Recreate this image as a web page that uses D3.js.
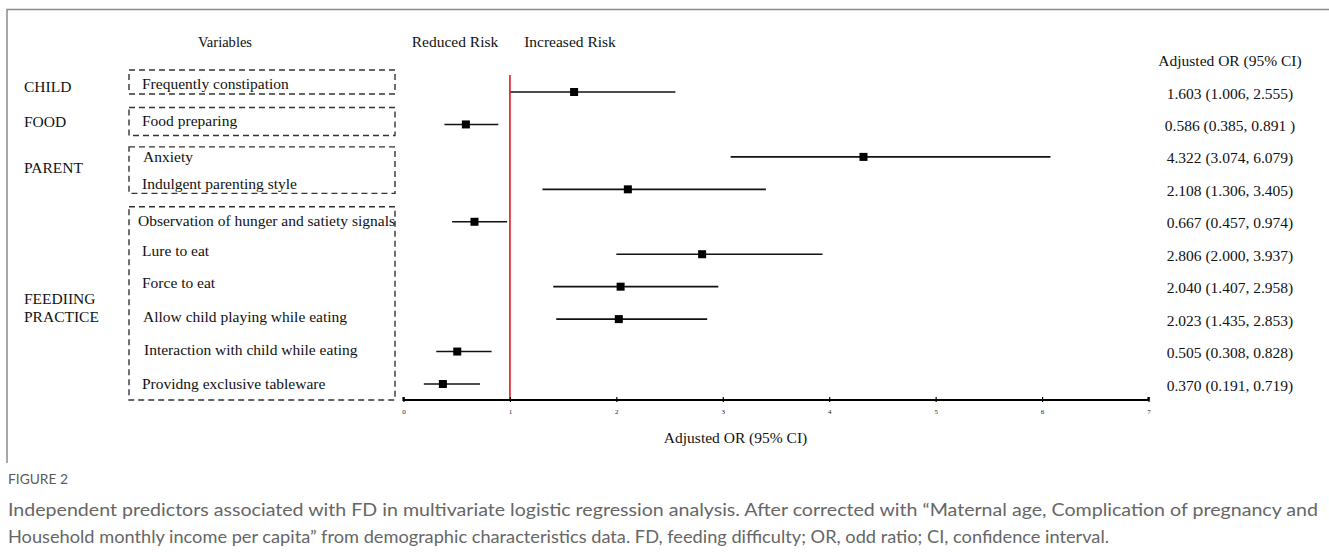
<!DOCTYPE html>
<html><head><meta charset="utf-8">
<script src="https://cdn.jsdelivr.net/npm/d3@7"></script>
<style>
html,body{margin:0;padding:0;background:#fff;}
svg{display:block;}
</style></head>
<body>
<svg id="chart" width="1329" height="552"></svg>
<script>
// ---- data ----
const groups = ["CHILD", "FOOD", "PARENT", "FEEDIING\nPRACTICE"];
const variables = [
  "Frequently constipation",
  "Food preparing",
  "Anxiety",
  "Indulgent parenting style",
  "Observation of hunger and satiety signals",
  "Lure to eat",
  "Force to eat",
  "Allow child playing while eating",
  "Interaction with child while eating",
  "Providng exclusive tableware"
];
const variableGroup = [0, 1, 2, 2, 3, 3, 3, 3, 3, 3];
const orValues  = [1.603, 0.586, 4.322, 2.108, 0.667, 2.806, 2.040, 2.023, 0.505, 0.370];
const ciLower   = [1.006, 0.385, 3.074, 1.306, 0.457, 2.000, 1.407, 1.435, 0.308, 0.191];
const ciUpper   = [2.555, 0.891, 6.079, 3.405, 0.974, 3.937, 2.958, 2.853, 0.828, 0.719];
const orLabels  = [
  "1.603 (1.006, 2.555)", "0.586 (0.385, 0.891 )", "4.322 (3.074, 6.079)",
  "2.108 (1.306, 3.405)", "0.667 (0.457, 0.974)", "2.806 (2.000, 3.937)",
  "2.040 (1.407, 2.958)", "2.023 (1.435, 2.853)", "0.505 (0.308, 0.828)",
  "0.370 (0.191, 0.719)"
];
const xTicks = [0, 1, 2, 3, 4, 5, 6, 7];
const refValue = 1;
const captionTitle = "FIGURE 2";
const captionLines = [
  "Independent predictors associated with FD in multivariate logistic regression analysis. After corrected with \u201cMaternal age, Complication of pregnancy and",
  "Household monthly income per capita\u201d from demographic characteristics data. FD, feeding difficulty; OR, odd ratio; CI, confidence interval."
];

// ---- layout ----
const serif = "'Liberation Serif', 'Times New Roman', serif";
const fs = 15.5;
const svg = d3.select("#chart");
const x = d3.scaleLinear().domain([0, 7]).range([403.5, 1148.5]);
const y = d3.scaleLinear().domain([0, variables.length - 1]).range([92, 384]);
const axisY = 400;
const rightX = 1230;

// frame
svg.append("path")
  .attr("d", "M7,463 V9.5 H1329")
  .attr("fill", "none").attr("stroke", "#8a8a8a").attr("stroke-width", 1.5);

// headers
const hdr = svg.append("g").attr("font-family", serif).attr("font-size", fs).attr("fill", "#111");
hdr.append("text").attr("x", 225).attr("y", 41).attr("text-anchor", "middle").attr("dominant-baseline", "central")
  .attr("textLength", 54).attr("lengthAdjust", "spacingAndGlyphs").text("Variables");
hdr.append("text").attr("x", 455).attr("y", 41).attr("text-anchor", "middle").attr("dominant-baseline", "central").text("Reduced Risk");
hdr.append("text").attr("x", 570).attr("y", 41).attr("text-anchor", "middle").attr("dominant-baseline", "central").text("Increased Risk");
hdr.append("text").attr("x", rightX).attr("y", 60).attr("text-anchor", "middle").attr("dominant-baseline", "central").text("Adjusted OR (95% CI)");

// dashed group boxes
const padTop = [22, 17, 10, 15];
const padBot = [2, 11, 4, 16];
groups.forEach((g, gi) => {
  const idx = variableGroup.map((v, i) => v === gi ? i : -1).filter(i => i >= 0);
  const top = y(d3.min(idx)) - padTop[gi];
  const bot = y(d3.max(idx)) + padBot[gi];
  svg.append("rect")
    .attr("x", 129).attr("y", top).attr("width", 266).attr("height", bot - top)
    .attr("fill", "none").attr("stroke", "#333").attr("stroke-width", 1.4)
    .attr("stroke-dasharray", "6,4");
});

// group labels
const groupLabelY = [86, 121, 167, 298];
groups.forEach((g, gi) => {
  const lines = g.split("\n");
  lines.forEach((ln, li) => {
    svg.append("text").attr("x", 24).attr("y", groupLabelY[gi] + li * 18)
      .attr("dominant-baseline", "central")
      .attr("font-family", serif).attr("font-size", fs).attr("fill", "#111").text(ln);
  });
});

// variable labels
const labelDy = [-8.5, -4, 0, -5.5, -1.5, -4, -4, -3, -2, -1];
const labelX = [142, 142, 143, 142, 138, 142, 142, 143, 144, 142];
svg.append("g").selectAll("text").data(variables).join("text")
  .attr("x", (d, i) => labelX[i])
  .attr("y", (d, i) => y(i) + labelDy[i])
  .attr("dominant-baseline", "central")
  .attr("font-family", serif).attr("font-size", fs).attr("fill", "#111")
  .text(d => d);

// reference line
svg.append("line")
  .attr("x1", x(refValue)).attr("x2", x(refValue))
  .attr("y1", 75).attr("y2", axisY)
  .attr("stroke", "#e8141b").attr("stroke-width", 1.6);

// CI lines
svg.append("g").selectAll("line").data(orValues).join("line")
  .attr("x1", (d, i) => x(ciLower[i])).attr("x2", (d, i) => x(ciUpper[i]))
  .attr("y1", (d, i) => y(i)).attr("y2", (d, i) => y(i))
  .attr("stroke", "#111").attr("stroke-width", 1.6);

// points
const s = 8;
svg.append("g").selectAll("rect").data(orValues).join("rect")
  .attr("x", d => x(d) - s / 2).attr("y", (d, i) => y(i) - s / 2)
  .attr("width", s).attr("height", s).attr("fill", "#000");

// axis
const axis = d3.axisBottom(x).tickValues(xTicks).tickSize(4).tickPadding(5).tickFormat(d3.format("d"));
const ax = svg.append("g").attr("transform", `translate(0,${axisY})`).call(axis);
ax.select(".domain").attr("stroke", "#000").attr("stroke-width", 2.2).attr("d", `M${x(0)},-3V0H${x(7)}V-3`);
ax.selectAll(".tick line").attr("stroke", "#000").attr("stroke-width", 1.2).attr("y1", -3).attr("y2", 2);
ax.selectAll(".tick text").attr("font-family", serif).attr("font-size", 7).attr("fill", "#222");

svg.append("text").attr("x", x(3.12)).attr("y", 437).attr("text-anchor", "middle").attr("dominant-baseline", "central")
  .attr("font-family", serif).attr("font-size", fs).attr("fill", "#111").text("Adjusted OR (95% CI)");

// right column values
svg.append("g").selectAll("text").data(orLabels).join("text")
  .attr("x", rightX).attr("y", (d, i) => y(i) + 1)
  .attr("text-anchor", "middle").attr("dominant-baseline", "central")
  .attr("font-family", serif).attr("font-size", fs).attr("fill", "#111")
  .text(d => d);

// caption
const capFont = "Lato, 'Open Sans', sans-serif";
svg.append("text").attr("x", 8).attr("y", 484)
  .attr("font-family", capFont).attr("font-size", 14).attr("fill", "#5a5a5a")
  .attr("textLength", 60).attr("lengthAdjust", "spacingAndGlyphs")
  .text(captionTitle);
captionLines.forEach((ln, i) => {
  svg.append("text").attr("x", 8).attr("y", 516 + i * 27)
    .attr("font-family", capFont).attr("font-size", 18).attr("fill", "#666")
    .attr("textLength", i === 0 ? 1310 : 1101).attr("lengthAdjust", "spacingAndGlyphs")
    .text(ln);
});
</script>
</body></html>
